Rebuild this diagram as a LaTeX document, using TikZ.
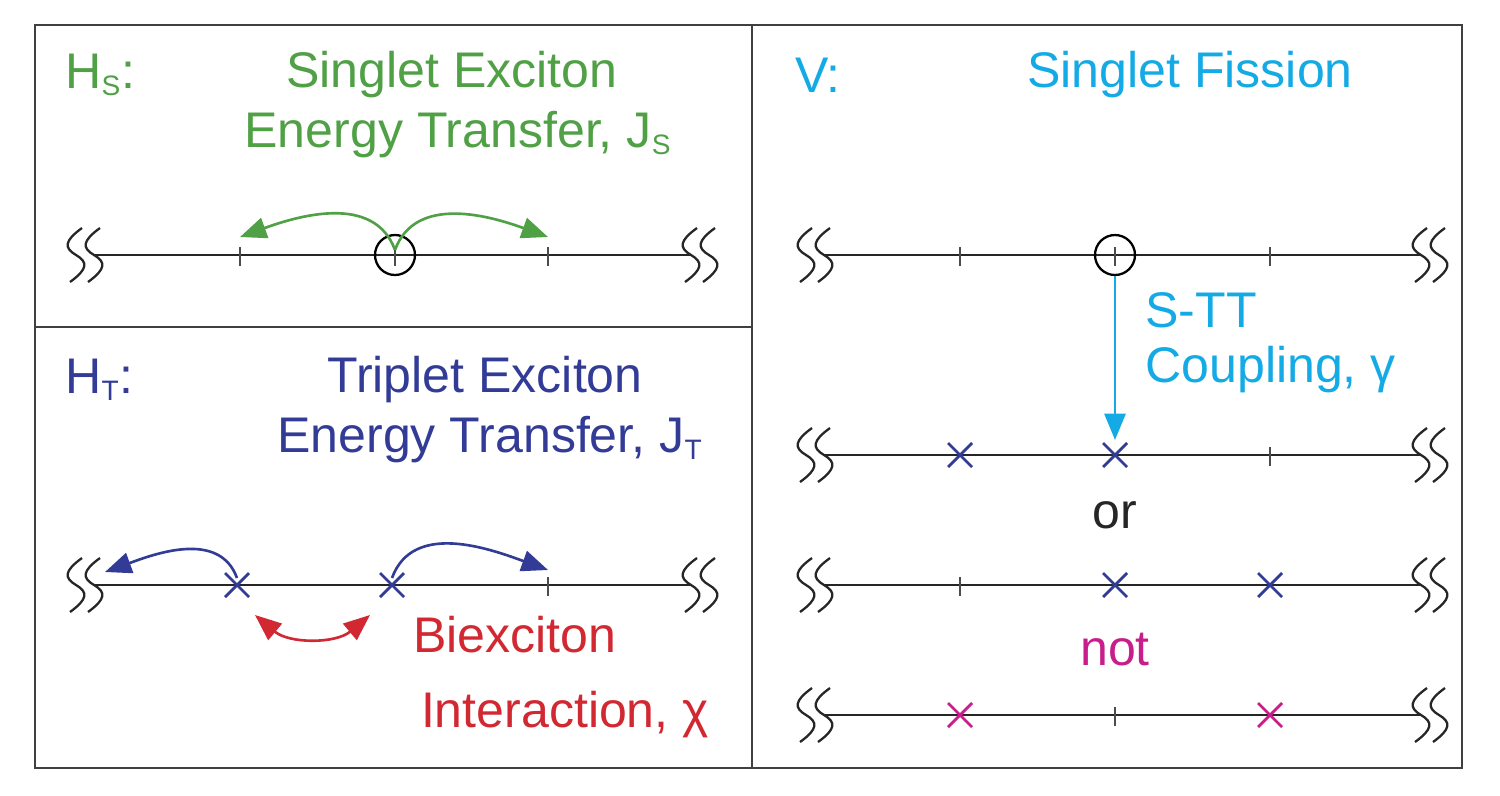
\documentclass[tikz,border=0pt]{standalone}
\usepackage{fontspec}
\setmainfont{Liberation Sans}
\usetikzlibrary{arrows.meta}
\definecolor{cg}{RGB}{80,160,70}
\definecolor{cb}{RGB}{50,60,150}
\definecolor{cr}{RGB}{210,40,50}
\definecolor{cc}{RGB}{20,170,230}
\definecolor{cmag}{RGB}{200,30,140}
\begin{document}
\begin{tikzpicture}[x=0.02cm,y=-0.02cm,
  txt/.style={font=\fontsize{28.5}{32}\selectfont,inner sep=0pt},
  axis/.style={line width=1.6pt,black!85},
  tickm/.style={line width=1.6pt,black!70},
  brk/.pic={\foreach \d in {-9,9}{\draw[line width=1.3pt,black!85] (\d+6,-27) .. controls (\d-12,-14) and (\d-12,-7) .. (\d,0) .. controls (\d+12,7) and (\d+12,14) .. (\d-6,27);}},
  xx/.style={line width=1.6pt},
  arr/.style={line width=1.5pt,-{Triangle[length=15pt,width=12pt]}}]
\useasboundingbox (0,0) rectangle (1500,795);
\draw[line width=1.1pt,black!75] (35,25) rectangle (1462,768);
\draw[line width=1.1pt,black!75] (752,25) -- (752,768) (35,327) -- (752,327);
% Left top
\node[txt,cg,anchor=west] (hs) at (65,75) {H\textsubscript{\fontsize{16}{16}\selectfont S}:};
\node[txt,cg] (t1) at (452,75) {Singlet Exciton};
\node[txt,cg] (t2) at (458,135) {Energy Transfer, J\textsubscript{\fontsize{16}{16}\selectfont S}};
\draw[axis] (95,255) -- (690,255);
\pic at (85,255) {brk}; \pic at (700,255) {brk};
\foreach \x in {240,395,548} \draw[tickm] (\x,247) -- (\x,266);
\node[draw,circle,line width=1.3pt,inner sep=0pt,minimum size=0.8cm] (c1) at (395,255) {};
\coordinate (s1) at (395,250);
\coordinate (a1) at (240,237); \coordinate (a3) at (548,237);
\draw[arr,cg] (s1) to[out=110,in=20] (a1);
\draw[arr,cg] (s1) to[out=70,in=160] (a3);
% Left bottom
\node[txt,cb,anchor=west] (ht) at (65,380) {H\textsubscript{\fontsize{16}{16}\selectfont T}:};
\node[txt,cb] (t3) at (485,380) {Triplet Exciton};
\node[txt,cb] (t4) at (490,440) {Energy Transfer, J\textsubscript{\fontsize{16}{16}\selectfont T}};
\draw[axis] (95,585) -- (690,585);
\pic at (85,585) {brk}; \pic at (700,585) {brk};
\draw[tickm] (548,577) -- (548,596);
\foreach \x in {237,392}{\draw[xx,cb] (\x-12,573) -- (\x+12,597) (\x-12,597) -- (\x+12,573);}
\coordinate (x1) at (237,578); \coordinate (x2) at (392,578);
\coordinate (e1) at (105,572); \coordinate (e2) at (548,570);
\draw[arr,cb] (x1) to[out=110,in=20] (e1);
\draw[arr,cb] (x2) to[out=70,in=160] (e2);
\coordinate (r1) at (255,615); \coordinate (r2) at (370,615);
\draw[cr,line width=1.5pt,{Triangle[length=15pt,width=12pt]}-{Triangle[length=15pt,width=12pt]}] (r1) to[out=-40,in=220] (r2);
\node[txt,cr] (t5) at (515,635) {Biexciton};
\node[txt,cr] (t6) at (565,715) {Interaction, χ};
% Right
\node[txt,cc,anchor=west] (v) at (795,75) {V:};
\node[txt,cc] (t7) at (1190,75) {Singlet Fission};
\foreach \y in {255,455,585,715}{\draw[axis] (825,\y) -- (1420,\y); \pic at (815,\y) {brk}; \pic at (1430,\y) {brk};}
\foreach \x/\y in {960/255,1270/255,1270/455,960/585,1115/715}\draw[tickm] (\x,\y-8) -- (\x,\y+11);
\draw[tickm] (1115,247) -- (1115,266);
\node[draw,circle,line width=1.3pt,inner sep=0pt,minimum size=0.8cm] (c2) at (1115,255) {};
\foreach \x/\y/\c in {960/455/cb,1115/455/cb,1115/585/cb,1270/585/cb,960/715/cmag,1270/715/cmag}\draw[xx,draw=\c] (\x-12,\y-12) -- (\x+12,\y+12) (\x-12,\y+12) -- (\x+12,\y-12);
\coordinate (tgt) at (1115,440);
\draw[arr,cc] (c2.south) -- (tgt);
\node[txt,cc,anchor=west] (t8) at (1145,310) {S-TT};
\node[txt,cc,anchor=west] (t9) at (1145,370) {Coupling, γ};
\node[txt,black!85] (or) at (1115,515) {or};
\node[txt,cmag] (not) at (1115,650) {not};
\end{tikzpicture}
\end{document}
